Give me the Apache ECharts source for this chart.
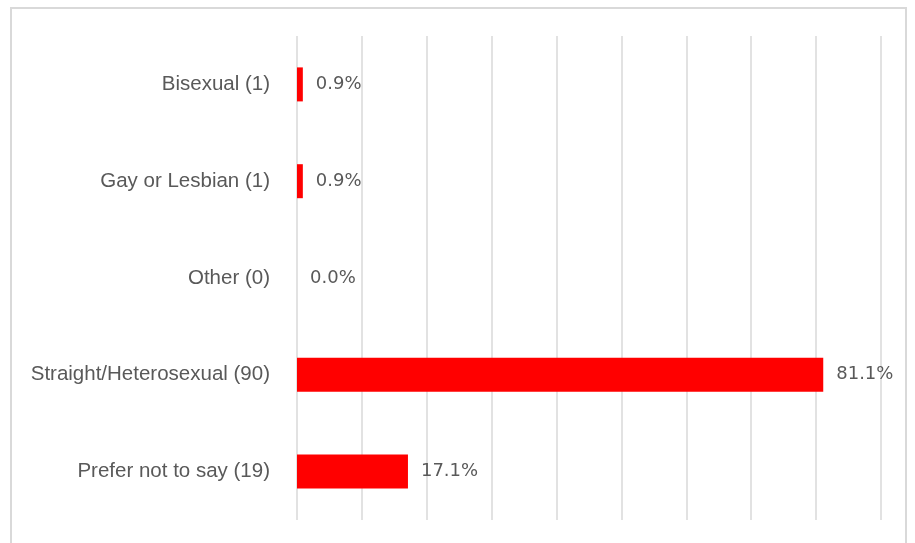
<!DOCTYPE html>
<html><head><meta charset="utf-8">
<script src="https://cdn.jsdelivr.net/npm/echarts@6/dist/echarts.min.js"></script>
<style>html,body{margin:0;padding:0;background:#fff}#c{width:915px;height:543px}</style>
</head><body><div id="c"></div>
<script>
const categories = ["Bisexual (1)", "Gay or Lesbian (1)", "Other (0)", "Straight/Heterosexual (90)", "Prefer not to say (19)"];
const values = [0.9, 0.9, 0.0, 81.1, 17.1];
const xTicks = [0, 10, 20, 30, 40, 50, 60, 70, 80, 90];

const chart = echarts.init(document.getElementById('c'));
chart.setOption({
  animation: false,
  backgroundColor: '#fff',
  graphic: [{
    type: 'rect', silent: true,
    shape: { x: 11, y: 8, width: 895, height: 560 },
    style: { fill: 'none', stroke: '#d9d9d9', lineWidth: 2 }
  }],
  grid: { left: 297, right: 34, top: 36, bottom: 23, containLabel: false },
  xAxis: {
    type: 'value', min: xTicks[0], max: xTicks[xTicks.length - 1], interval: 10,
    axisLine: { show: false }, axisTick: { show: false }, axisLabel: { show: false },
    splitLine: { show: true, lineStyle: { color: '#d9d9d9', width: 1.5 } }
  },
  yAxis: {
    type: 'category', data: categories, inverse: true,
    axisLine: { show: false }, axisTick: { show: false },
    axisLabel: { margin: 27, color: '#595959', fontSize: 20.5, padding: [3, 0, 0, 0], fontFamily: '"Liberation Sans", sans-serif' }
  },
  series: [{
    type: 'bar', data: values, barWidth: 34,
    itemStyle: { color: '#ff0000' },
    label: {
      show: true, position: 'right', distance: 13, padding: [3, 0, 0, 0],
      color: '#595959', fontSize: 18, fontFamily: '"DejaVu Sans", sans-serif',
      formatter: p => p.value.toFixed(1) + '%'
    }
  }]
});
</script></body></html>
